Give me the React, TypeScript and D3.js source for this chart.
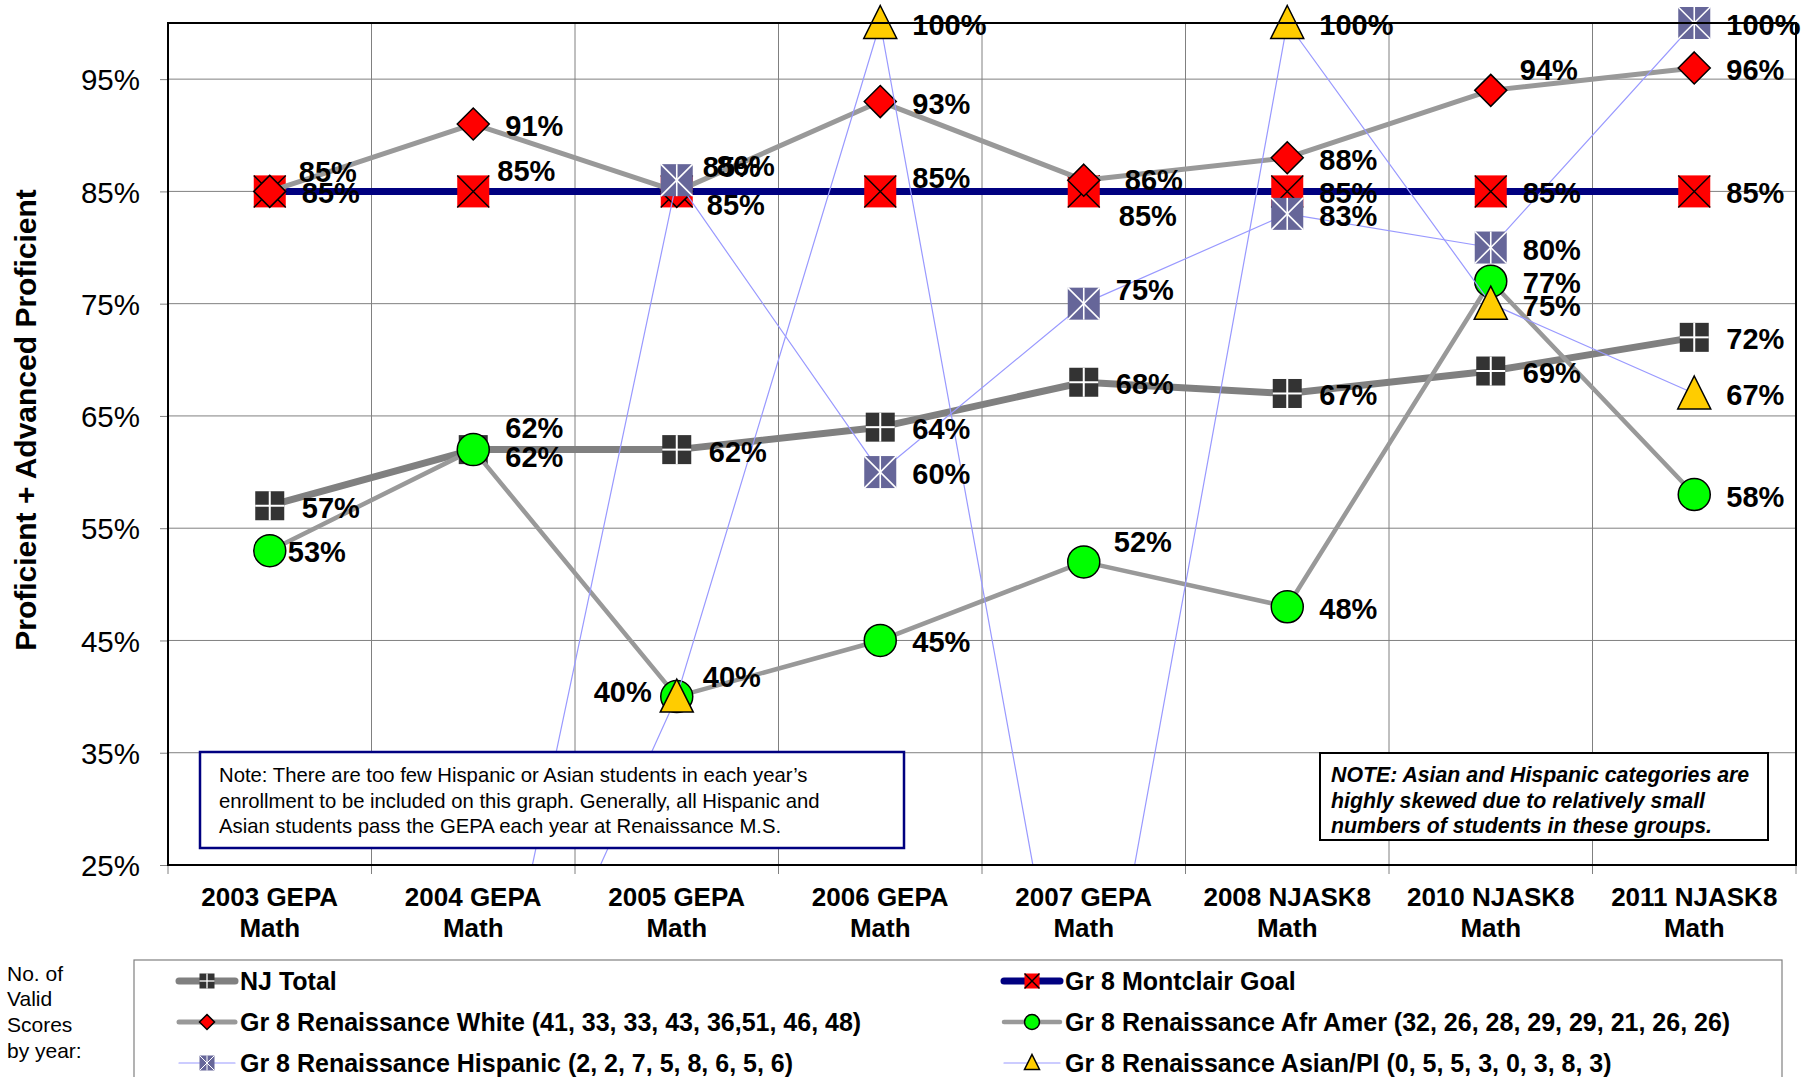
import { useEffect, useRef } from 'react';
import * as d3 from 'd3';

const years = [
  '2003 GEPA Math', '2004 GEPA Math', '2005 GEPA Math', '2006 GEPA Math',
  '2007 GEPA Math', '2008 NJASK8 Math', '2010 NJASK8 Math', '2011 NJASK8 Math',
];
const yearLines = [
  ['2003 GEPA', 'Math'], ['2004 GEPA', 'Math'], ['2005 GEPA', 'Math'], ['2006 GEPA', 'Math'],
  ['2007 GEPA', 'Math'], ['2008 NJASK8', 'Math'], ['2010 NJASK8', 'Math'], ['2011 NJASK8', 'Math'],
];
const yTicks = [25, 35, 45, 55, 65, 75, 85, 95];

const njTotal = [57, 62, 62, 64, 68, 67, 69, 72];
const montclairGoal = [85, 85, 85, 85, 85, 85, 85, 85];
const renWhite = [85, 91, 85, 93, 86, 88, 94, 96];
const renAfrAmer = [53, 62, 40, 45, 52, 48, 77, 58];
const renHispanic = [0, 0, 86, 60, 75, 83, 80, 100];
const renAsian: (number | null)[] = [null, 0, 40, 100, 0, 100, 75, 67];

const legendNames = [
  'NJ Total',
  'Gr 8 Montclair Goal',
  'Gr 8 Renaissance White (41, 33, 33, 43, 36,51, 46, 48)',
  'Gr 8 Renaissance Afr  Amer (32, 26, 28, 29, 29, 21, 26, 26)',
  'Gr 8 Renaissance Hispanic (2, 2, 7, 5, 8, 6, 5, 6)',
  'Gr 8 Renaissance Asian/PI (0, 5, 5, 3, 0, 3, 8, 3)',
];

const noteLeft = [
  'Note: There are too few Hispanic or Asian students in each year\u2019s',
  'enrollment to be included on this graph. Generally, all Hispanic and',
  'Asian students pass the GEPA each year at Renaissance M.S.',
];
const noteRight = [
  'NOTE: Asian and Hispanic categories are',
  'highly skewed due to relatively small',
  'numbers of students in these groups.',
];
const countsNote = ['No. of', 'Valid', 'Scores', 'by year:'];

type Marker = 'plus' | 'xbox' | 'diamond' | 'circle' | 'star' | 'triangle';

const series = [
  { name: legendNames[0], values: njTotal as (number | null)[], stroke: '#808080', width: 7, marker: 'plus' as Marker },
  { name: legendNames[1], values: montclairGoal as (number | null)[], stroke: '#000080', width: 7, marker: 'xbox' as Marker },
  { name: legendNames[2], values: renWhite as (number | null)[], stroke: '#999999', width: 5, marker: 'diamond' as Marker },
  { name: legendNames[3], values: renAfrAmer as (number | null)[], stroke: '#999999', width: 4.5, marker: 'circle' as Marker },
  { name: legendNames[4], values: renHispanic as (number | null)[], stroke: '#9999FF', width: 1.2, marker: 'star' as Marker },
  { name: legendNames[5], values: renAsian, stroke: '#9999FF', width: 1.2, marker: 'triangle' as Marker },
];

// hand nudges for data labels that Excel had moved: [series][point] -> [dx, dy, anchor]
const labelNudge: Record<string, [number, number, string?]> = {
  '2-0': [29, -19], '3-0': [18, 1],
  '1-1': [24, -20], '0-1': [32, 7], '3-1': [32, -22],
  '2-2': [26, -24], '4-2': [40, -14], '1-2': [30, 14], '3-2': [-25, -5, 'end'], '5-2': [26, -20],
  '1-3': [32, -13],
  '2-4': [41, 0], '1-4': [35, 25], '4-4': [32, -14], '3-4': [30, -20],
  '2-6': [29, -20],
};

const W = 1803;
const H = 1077;
const plot = { left: 168, right: 1796, top: 23, bottom: 865 };
const FONT = '"Liberation Sans", Arial, Helvetica, sans-serif';

function drawMarker(g: d3.Selection<SVGGElement, unknown, null, undefined>, type: Marker, cx: number, cy: number, s: number) {
  const h = s / 2;
  if (type === 'plus') {
    g.append('rect').attr('x', cx - h).attr('y', cy - h).attr('width', s).attr('height', s).attr('fill', '#333333');
    g.append('line').attr('x1', cx).attr('x2', cx).attr('y1', cy - h).attr('y2', cy + h).attr('stroke', '#fff').attr('stroke-width', s > 20 ? 2 : 1.3);
    g.append('line').attr('x1', cx - h).attr('x2', cx + h).attr('y1', cy).attr('y2', cy).attr('stroke', '#fff').attr('stroke-width', s > 20 ? 2 : 1.3);
  } else if (type === 'xbox') {
    g.append('rect').attr('x', cx - h).attr('y', cy - h).attr('width', s).attr('height', s).attr('fill', '#FF0000');
    g.append('line').attr('x1', cx - h).attr('x2', cx + h).attr('y1', cy - h).attr('y2', cy + h).attr('stroke', '#000').attr('stroke-width', 1.4);
    g.append('line').attr('x1', cx - h).attr('x2', cx + h).attr('y1', cy + h).attr('y2', cy - h).attr('stroke', '#000').attr('stroke-width', 1.4);
  } else if (type === 'diamond') {
    g.append('polygon')
      .attr('points', `${cx},${cy - h} ${cx + h},${cy} ${cx},${cy + h} ${cx - h},${cy}`)
      .attr('fill', '#FF0000').attr('stroke', '#000').attr('stroke-width', 1.5);
  } else if (type === 'circle') {
    g.append('circle').attr('cx', cx).attr('cy', cy).attr('r', h).attr('fill', '#00FF00').attr('stroke', '#000').attr('stroke-width', 1.5);
  } else if (type === 'star') {
    g.append('rect').attr('x', cx - h).attr('y', cy - h).attr('width', s).attr('height', s).attr('fill', '#666699');
    const sw = s > 20 ? 1.6 : 1;
    g.append('line').attr('x1', cx - h).attr('x2', cx + h).attr('y1', cy - h).attr('y2', cy + h).attr('stroke', '#fff').attr('stroke-width', sw);
    g.append('line').attr('x1', cx - h).attr('x2', cx + h).attr('y1', cy + h).attr('y2', cy - h).attr('stroke', '#fff').attr('stroke-width', sw);
    g.append('line').attr('x1', cx).attr('x2', cx).attr('y1', cy - h).attr('y2', cy + h).attr('stroke', '#fff').attr('stroke-width', sw);
  } else {
    g.append('polygon')
      .attr('points', `${cx},${cy - h - 1} ${cx + h},${cy + h - 1} ${cx - h},${cy + h - 1}`)
      .attr('fill', '#FFCC00').attr('stroke', '#000').attr('stroke-width', 1.5);
  }
}

export default function App() {
  const svgRef = useRef<SVGSVGElement>(null);

  useEffect(() => {
    if (!svgRef.current) return;
    const svg = d3.select(svgRef.current);
    svg.selectAll('*').remove();

    const x = d3.scaleBand<string>().domain(years).range([plot.left, plot.right]);
    const y = d3.scaleLinear().domain([25, 100]).range([plot.bottom, plot.top]);
    const cx = (i: number) => x(years[i])! + x.bandwidth() / 2;

    svg.append('rect').attr('width', W).attr('height', H).attr('fill', '#fff');

    svg.append('defs').append('clipPath').attr('id', 'plotClip')
      .append('rect')
      .attr('x', plot.left).attr('y', plot.top)
      .attr('width', plot.right - plot.left).attr('height', plot.bottom - plot.top);

    // gridlines
    const grid = svg.append('g').attr('stroke', '#808080').attr('stroke-width', 1);
    yTicks.filter(t => t > 25).forEach(t => {
      grid.append('line').attr('x1', plot.left).attr('x2', plot.right).attr('y1', y(t)).attr('y2', y(t));
    });
    years.slice(1).forEach(c => {
      grid.append('line').attr('x1', x(c)!).attr('x2', x(c)!).attr('y1', plot.top).attr('y2', plot.bottom);
    });

    // y axis
    const yAxis = svg.append('g')
      .attr('transform', `translate(${plot.left},0)`)
      .call(d3.axisLeft(y).tickValues(yTicks).tickSizeInner(8).tickSizeOuter(0).tickPadding(20).tickFormat(d => `${d}%`));
    yAxis.select('.domain').remove();
    yAxis.selectAll('.tick line').attr('stroke', '#808080');
    yAxis.selectAll('.tick text')
      .attr('font-family', FONT).attr('font-size', 29.5).attr('fill', '#000')
      .attr('dy', '0.36em');

    // x ticks at category boundaries
    years.forEach(c => {
      svg.append('line').attr('x1', x(c)!).attr('x2', x(c)!).attr('y1', plot.bottom).attr('y2', plot.bottom + 9)
        .attr('stroke', '#808080');
    });
    svg.append('line').attr('x1', plot.right).attr('x2', plot.right).attr('y1', plot.bottom).attr('y2', plot.bottom + 9)
      .attr('stroke', '#808080');

    yearLines.forEach((lines, i) => {
      lines.forEach((ln, k) => {
        svg.append('text')
          .attr('x', cx(i)).attr('y', 897 + k * 31)
          .attr('text-anchor', 'middle').attr('dominant-baseline', 'central')
          .attr('font-family', FONT).attr('font-size', 26).attr('font-weight', 'bold')
          .text(ln);
      });
    });

    // series
    series.forEach(s => {
      const line = d3.line<number | null>()
        .defined(v => v != null)
        .x((_, i) => cx(i))
        .y(v => y(v as number));
      svg.append('path').datum(s.values)
        .attr('d', line)
        .attr('fill', 'none')
        .attr('stroke', s.stroke)
        .attr('stroke-width', s.width)
        .attr('stroke-linejoin', 'round')
        .attr('clip-path', 'url(#plotClip)');
      const mg = svg.append('g');
      s.values.forEach((v, i) => {
        if (v == null || v < 25) return;
        drawMarker(mg, s.marker, cx(i), y(v), s.marker === 'plus' ? 29 : s.marker === 'triangle' ? 33 : 32);
      });
    });

    // plot border
    svg.append('rect')
      .attr('x', plot.left).attr('y', plot.top)
      .attr('width', plot.right - plot.left).attr('height', plot.bottom - plot.top)
      .attr('fill', 'none').attr('stroke', '#000').attr('stroke-width', 2);

    // note boxes sit above the series lines
    svg.append('rect').attr('x', 200).attr('y', 752).attr('width', 704).attr('height', 96)
      .attr('fill', '#fff').attr('stroke', '#000080').attr('stroke-width', 2.5);
    noteLeft.forEach((t, k) => {
      svg.append('text').attr('x', 219).attr('y', 775 + k * 25.5)
        .attr('dominant-baseline', 'central')
        .attr('font-family', FONT).attr('font-size', 20.3).text(t);
    });
    svg.append('rect').attr('x', 1320).attr('y', 753).attr('width', 448).attr('height', 87)
      .attr('fill', '#fff').attr('stroke', '#000').attr('stroke-width', 2);
    noteRight.forEach((t, k) => {
      svg.append('text').attr('x', 1331).attr('y', 775 + k * 25.5)
        .attr('dominant-baseline', 'central')
        .attr('font-family', FONT).attr('font-size', 21.3).attr('font-weight', 'bold').attr('font-style', 'italic')
        .text(t);
    });

    // data labels on top
    series.forEach((s, si) => {
      s.values.forEach((v, i) => {
        if (v == null || v < 25) return;
        const [dx, dy, anchor] = labelNudge[`${si}-${i}`] ?? [32, 2];
        svg.append('text')
          .attr('x', cx(i) + dx).attr('y', y(v) + dy)
          .attr('text-anchor', anchor ?? 'start').attr('dominant-baseline', 'central')
          .attr('font-family', FONT).attr('font-size', 29).attr('font-weight', 'bold')
          .text(`${v}%`);
      });
    });

    // axis title
    svg.append('text')
      .attr('transform', 'translate(25,420) rotate(-90)')
      .attr('text-anchor', 'middle').attr('dominant-baseline', 'central')
      .attr('font-family', FONT).attr('font-size', 30).attr('font-weight', 'bold')
      .text('Proficient + Advanced Proficient');

    // legend
    countsNote.forEach((t, k) => {
      svg.append('text').attr('x', 7).attr('y', 973 + k * 25.7)
        .attr('dominant-baseline', 'central')
        .attr('font-family', FONT).attr('font-size', 21).text(t);
    });
    svg.append('rect').attr('x', 134).attr('y', 960).attr('width', 1648).attr('height', 140)
      .attr('fill', 'none').attr('stroke', '#808080').attr('stroke-width', 1.2);
    const colX = [179, 1004];
    const rowY = [981, 1022, 1063];
    series.forEach((s, si) => {
      const lx = colX[si % 2];
      const ly = rowY[Math.floor(si / 2)];
      const lg = svg.append('g');
      lg.append('line').attr('x1', lx).attr('x2', lx + 56).attr('y1', ly).attr('y2', ly)
        .attr('stroke', s.stroke).attr('stroke-width', s.width).attr('stroke-linecap', 'round');
      drawMarker(lg, s.marker, lx + 28, ly, 15);
      lg.append('text').attr('x', lx + 61).attr('y', ly)
        .attr('dominant-baseline', 'central')
        .attr('font-family', FONT).attr('font-size', 25).attr('font-weight', 'bold')
        .text(s.name);
    });
  }, []);

  return (
    <svg
      ref={svgRef}
      width={W}
      height={H}
      style={{ position: 'absolute', left: 0, top: 0, display: 'block' }}
    />
  );
}
